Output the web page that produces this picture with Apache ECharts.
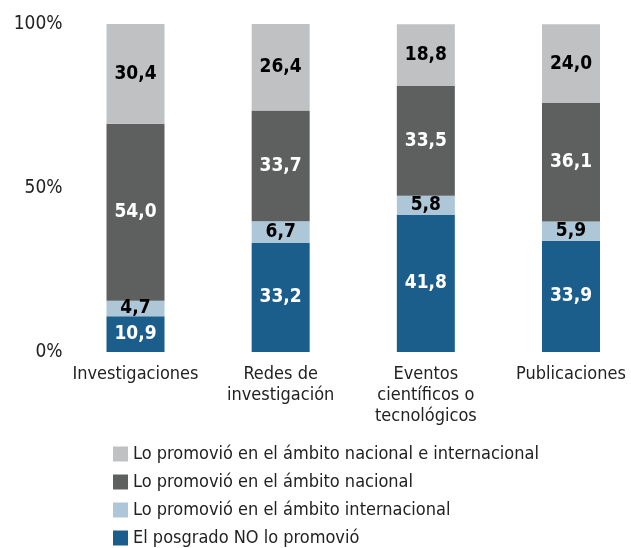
<!DOCTYPE html>
<html>
<head>
<meta charset="utf-8">
<script src="https://cdn.jsdelivr.net/npm/echarts@6/dist/echarts.min.js"></script>
<style>
html, body { margin: 0; padding: 0; background: #fff; }
#chart { width: 631px; height: 548px; }
</style>
</head>
<body>
<div id="chart"></div>
<script>
var FONT = '"Liberation Sans Narrow", "DejaVu Sans Condensed", "Liberation Sans", sans-serif';

var categories = ['Investigaciones', 'Redes de\ninvestigación', 'Eventos\ncientíficos o\ntecnológicos', 'Publicaciones'];
var noPromovio = [10.9, 33.2, 41.8, 33.9];
var internacional = [4.7, 6.7, 5.8, 5.9];
var nacional = [54.0, 33.7, 33.5, 36.1];
var nacionalInternacional = [30.4, 26.4, 18.8, 24.0];
var yTicks = [0, 50, 100];

var chart = echarts.init(document.getElementById('chart'));

// etiqueta con coma decimal
function fmt(p) {
  return p.value.toFixed(1).replace('.', ',');
}

function serie(name, data, color, textColor) {
  return {
    name: name,
    type: 'bar',
    stack: 'total',
    barWidth: 58,
    clip: false,
    data: data,
    itemStyle: { color: color },
    label: {
      show: true,
      position: 'inside',
      formatter: fmt,
      color: textColor,
      fontFamily: FONT,
      fontWeight: 'bold',
      fontSize: 19
    }
  };
}

var option = {
  animation: false,
  textStyle: { fontFamily: FONT },
  grid: { left: 135.5, right: 60, top: 24, bottom: 196, containLabel: false },
  legend: {
    orient: 'vertical',
    left: 108,
    top: 440,
    height: 120,
    itemWidth: 15,
    itemHeight: 15,
    itemGap: 10,
    icon: 'rect',
    data: ['Lo promovió en el ámbito nacional e internacional', 'Lo promovió en el ámbito nacional', 'Lo promovió en el ámbito internacional', 'El posgrado NO lo promovió'],
    textStyle: { fontFamily: FONT, fontSize: 18, lineHeight: 16, color: '#222' }
  },
  xAxis: {
    type: 'category',
    data: categories,
    boundaryGap: false,
    axisLine: { show: false },
    axisTick: { show: false },
    axisLabel: { fontFamily: FONT, fontSize: 18, color: '#222', lineHeight: 21, margin: 12, interval: 0 }
  },
  yAxis: {
    type: 'value',
    min: yTicks[0],
    max: yTicks[yTicks.length - 1],
    interval: 50,
    splitLine: { show: false },
    axisLine: { show: false },
    axisTick: { show: false },
    axisLabel: { fontFamily: FONT, fontSize: 19, color: '#222', margin: 73, formatter: '{value}%' }
  },
  series: [
    serie('El posgrado NO lo promovió', noPromovio, '#1b5d8b', '#fff'),
    serie('Lo promovió en el ámbito internacional', internacional, '#adc6d8', '#000'),
    serie('Lo promovió en el ámbito nacional', nacional, '#5e605f', '#fff'),
    serie('Lo promovió en el ámbito nacional e internacional', nacionalInternacional, '#c0c1c3', '#000')
  ]
};

chart.setOption(option);
window.addEventListener('resize', function () { chart.resize(); });
</script>
</body>
</html>
